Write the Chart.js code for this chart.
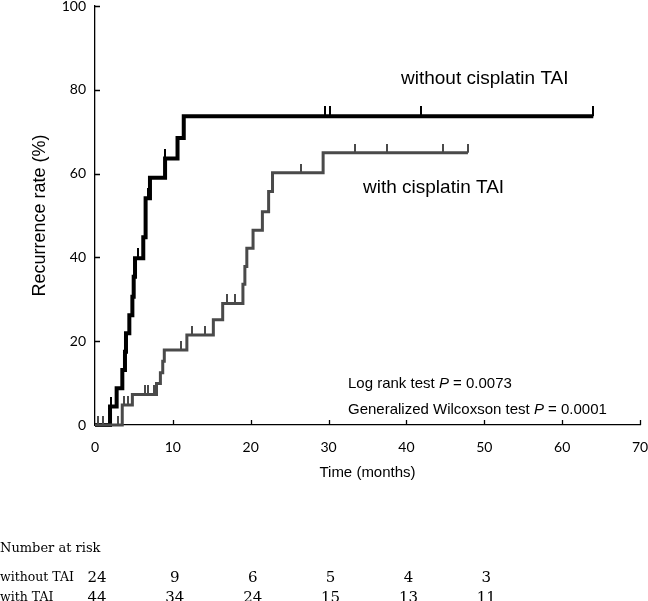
<!DOCTYPE html>
<html>
<head>
<meta charset="utf-8">
<script src="https://cdn.jsdelivr.net/npm/chart.js@4.4.1/dist/chart.umd.min.js"></script>
<style>
  html, body { margin: 0; padding: 0; background: #ffffff; }
  #wrap { width: 648px; height: 601px; }
</style>
</head>
<body>
<div id="wrap"><canvas id="c" width="648" height="601"></canvas></div>
<script>
// ---- data ----
const timesWithout  = [0, 1.93, 2.78, 3.51, 3.85, 3.98, 4.41, 4.80, 4.97, 5.14, 6.2, 6.5, 7.06, 9.0, 10.6, 11.4, 64.0];
const rateWithout   = [0, 4.4, 8.8, 13.1, 17.5, 21.9, 26.2, 30.6, 35.4, 39.8, 44.8, 54.1, 59.0, 63.6, 68.5, 73.7, 73.7];
const censorTimesWithout = [2.1, 5.5, 6.8, 9.0, 29.5, 30.2, 41.9, 64.0];
const censorRateWithout  = [4.4, 39.8, 54.1, 63.6, 73.7, 73.7, 73.7, 73.7];

const timesWith  = [0, 3.5, 4.8, 7.9, 8.4, 8.7, 8.9, 11.8, 15.2, 16.4, 19.0, 19.25, 19.5, 20.3, 21.5, 22.3, 22.8, 29.3, 47.9];
const rateWith   = [0, 4.8, 7.3, 9.9, 12.5, 15.2, 17.9, 21.5, 25.1, 29.0, 33.6, 37.8, 42.2, 46.5, 50.9, 55.7, 60.2, 65.0, 65.0];
const censorTimesWith = [0.4, 1.0, 3.0, 3.7, 4.2, 6.4, 6.8, 7.6, 11.0, 12.4, 14.1, 17.0, 18.0, 26.5, 33.4, 37.5, 44.7, 47.9];
const censorRateWith  = [0, 0, 0, 4.8, 4.8, 7.3, 7.3, 7.3, 17.9, 21.5, 21.5, 29.0, 29.0, 60.2, 65.0, 65.0, 65.0, 65.0];

const riskTimes   = [0, 10, 20, 30, 40, 50];
const riskWithout = [24, 9, 6, 5, 4, 3];
const riskWith    = [44, 34, 24, 15, 13, 11];
const riskRowLabels = ['without TAI', 'with TAI'];

const xTickMax = 70, xStep = 10;
const yTickMax = 100, yStep = 20;

// ---- helpers ----
function pts(xs, ys) { return xs.map((x, i) => ({ x: x, y: ys[i] })); }
function tickImage(color, w, h) {
  const cv = document.createElement('canvas');
  cv.width = w; cv.height = h * 2;
  const g = cv.getContext('2d');
  g.fillStyle = color;
  g.fillRect(0, 0, w, h);
  return cv;
}
const BLACK = '#000000';
const GREY = '#4a4a4a';

const extras = {
  id: 'extras',
  afterDraw(chart) {
    const ctx = chart.ctx;
    const xs = chart.scales.x, ys = chart.scales.y;
    const ca = chart.chartArea;
    ctx.save();
    // inward tick marks
    ctx.strokeStyle = '#000';
    ctx.lineWidth = 1.3;
    ctx.beginPath();
    for (let v = xStep; v <= xTickMax; v += xStep) {
      const px = Math.round(xs.getPixelForValue(v)) + 0.5;
      ctx.moveTo(px, ca.bottom); ctx.lineTo(px, ca.bottom - 5);
    }
    for (let v = yStep; v <= yTickMax; v += yStep) {
      const py = Math.round(ys.getPixelForValue(v)) + 0.5;
      ctx.moveTo(ca.left, py); ctx.lineTo(ca.left + 5, py);
    }
    ctx.stroke();

    // curve labels
    ctx.fillStyle = '#000';
    ctx.textBaseline = 'middle';
    ctx.textAlign = 'left';
    ctx.font = '19px "Liberation Sans", Arial, sans-serif';
    ctx.fillText('without cisplatin TAI', 401, 79);
    ctx.fillText('with cisplatin TAI', 363, 188);

    // test statistics with italic P
    function mixed(parts, x, y) {
      let cx = x;
      parts.forEach(p => {
        ctx.font = (p.it ? 'italic ' : '') + '15px "Liberation Sans", Arial, sans-serif';
        ctx.fillText(p.t, cx, y);
        cx += ctx.measureText(p.t).width;
      });
    }
    mixed([{t: 'Log rank test '}, {t: 'P', it: true}, {t: ' = 0.0073'}], 348, 384);
    mixed([{t: 'Generalized Wilcoxson test '}, {t: 'P', it: true}, {t: ' = 0.0001'}], 348, 410);

    // number at risk table
    ctx.font = '13px "DejaVu Serif", serif';
    ctx.textAlign = 'left';
    ctx.fillText('Number at risk', 0, 549);
    const rowY = [578, 598];
    ctx.font = '12.5px "DejaVu Serif", serif';
    ctx.fillText(riskRowLabels[0], 0, rowY[0]);
    ctx.fillText(riskRowLabels[1], 0, rowY[1]);
    ctx.font = '15px "DejaVu Serif", serif';
    ctx.textAlign = 'center';
    riskTimes.forEach((t, i) => {
      const px = xs.getPixelForValue(t);
      ctx.fillText(String(riskWithout[i]), px + 2, rowY[0]);
      ctx.fillText(String(riskWith[i]), px + 2, rowY[1]);
    });
    ctx.restore();
  }
};

new Chart(document.getElementById('c'), {
  type: 'line',
  data: {
    datasets: [
      { label: 'with cisplatin TAI', data: pts(timesWith, rateWith), stepped: true,
        borderColor: GREY, borderWidth: 3, pointRadius: 0, fill: false, clip: false,
        borderJoinStyle: 'miter', borderCapStyle: 'butt' },
      { label: 'with censored', type: 'scatter', data: pts(censorTimesWith, censorRateWith),
        pointStyle: tickImage(GREY, 2, 9), pointRadius: 5, showLine: false, clip: false },
      { label: 'without cisplatin TAI', data: pts(timesWithout, rateWithout), stepped: true,
        borderColor: BLACK, borderWidth: 4, pointRadius: 0, fill: false, clip: false,
        borderJoinStyle: 'miter', borderCapStyle: 'butt' },
      { label: 'without censored', type: 'scatter', data: pts(censorTimesWithout, censorRateWithout),
        pointStyle: tickImage(BLACK, 2, 10), pointRadius: 5, showLine: false, clip: false }
    ]
  },
  options: {
    responsive: false,
    animation: false,
    events: [],
    layout: { autoPadding: false, padding: { left: 29, right: 0, top: 0, bottom: 115 } },
    plugins: { legend: { display: false }, tooltip: { enabled: false }, title: { display: false } },
    scales: {
      x: {
        type: 'linear', min: 0, max: xTickMax,
        afterFit(s) { s.height = 61; s.paddingLeft = 0; s.paddingRight = 8; },
        grid: { display: true, drawOnChartArea: false, drawTicks: false },
        border: { display: true, color: '#000', width: 1.3 },
        ticks: { stepSize: xStep, padding: 14, color: '#000', maxRotation: 0,
                 font: { family: 'Lato, "Open Sans", sans-serif', size: 14, lineHeight: 1.2 } },
        title: { display: true, text: 'Time (months)', color: '#000',
                 font: { family: '"Liberation Sans", Arial, sans-serif', size: 15, lineHeight: 1.2 },
                 padding: { top: 8, bottom: 4 } }
      },
      y: {
        type: 'linear', min: 0, max: yTickMax,
        afterFit(s) { s.width = 66; s.paddingTop = 6; s.paddingBottom = 0; },
        grid: { display: true, drawOnChartArea: false, drawTicks: false },
        border: { display: true, color: '#000', width: 1.3 },
        ticks: { stepSize: yStep, padding: 9, color: '#000',
                 font: { family: 'Lato, "Open Sans", sans-serif', size: 14, lineHeight: 1.0 } },
        title: { display: true, text: 'Recurrence rate (%)', color: '#000',
                 font: { family: '"Liberation Sans", Arial, sans-serif', size: 18, lineHeight: 1.2 },
                 padding: { top: 0, bottom: 10 } }
      }
    }
  },
  plugins: [extras]
});
</script>
</body>
</html>
